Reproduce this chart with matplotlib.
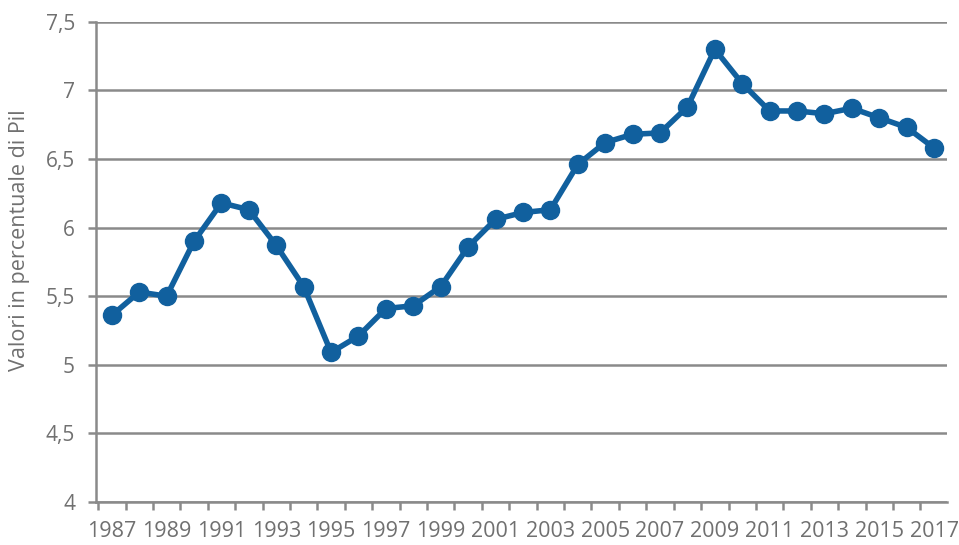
import matplotlib
matplotlib.use("Agg")
import matplotlib.pyplot as plt
from matplotlib.ticker import FixedLocator, NullFormatter

years = list(range(1987, 2018))
values = [5.36, 5.53, 5.50, 5.90, 6.18, 6.13, 5.87, 5.57, 5.09, 5.21,
          5.41, 5.43, 5.57, 5.86, 6.06, 6.11, 6.13, 6.46, 6.62, 6.68,
          6.69, 6.88, 7.30, 7.05, 6.85, 6.85, 6.83, 6.87, 6.80, 6.73, 6.58]
y_ticks = [4, 4.5, 5, 5.5, 6, 6.5, 7, 7.5]
y_tick_labels = ["4", "4,5", "5", "5,5", "6", "6,5", "7", "7,5"]
x_label_years = list(range(1987, 2018, 2))
y_label = "Valori in percentuale di Pil"

plt.rcParams['font.family'] = ['Open Sans', 'DejaVu Sans']
fig = plt.figure(figsize=(9.59, 5.45), dpi=100)
ax = fig.add_axes([0.100, 0.079, 0.8875, 0.881])

grid_color = "#8a8a8a"
text_color = "#707070"
line_color = "#11609e"

ax.plot(years, values, color=line_color, lw=4, marker='o', ms=13,
        markerfacecolor=line_color, markeredgecolor=line_color, zorder=3,
        solid_joinstyle='round')

ax.set_ylim(4, 7.5)
ax.set_xlim(years[0] - 0.58, years[-1] + 0.47)
ax.set_yticks(y_ticks)
ax.set_yticklabels(y_tick_labels)
ax.yaxis.grid(True, color=grid_color, lw=1.8)
ax.set_axisbelow(True)

# x: labels at every other year, tick marks at category boundaries
ax.set_xticks(x_label_years)
ax.set_xticklabels([str(y) for y in x_label_years])
ax.tick_params(axis='x', which='major', length=0, labelsize=15.5,
               labelcolor=text_color, pad=14)
ax.xaxis.set_minor_locator(FixedLocator([y - 0.5 for y in years] + [years[-1] + 0.5]))
ax.xaxis.set_minor_formatter(NullFormatter())
ax.tick_params(axis='x', which='minor', length=6, width=1.8, color=grid_color)
ax.tick_params(axis='y', length=6, width=1.8, color=grid_color,
               labelsize=15, labelcolor=text_color, pad=9)

for s in ['top', 'right']:
    ax.spines[s].set_visible(False)
ax.spines['left'].set_color(grid_color)
ax.spines['left'].set_linewidth(1.8)
ax.spines['bottom'].set_color(grid_color)
ax.spines['bottom'].set_linewidth(1.8)

ax.set_ylabel(y_label, color=text_color, fontsize=15.5)
ax.yaxis.set_label_coords(-0.078, 0.546)

fig.savefig("out.png", dpi=100, facecolor="white")
